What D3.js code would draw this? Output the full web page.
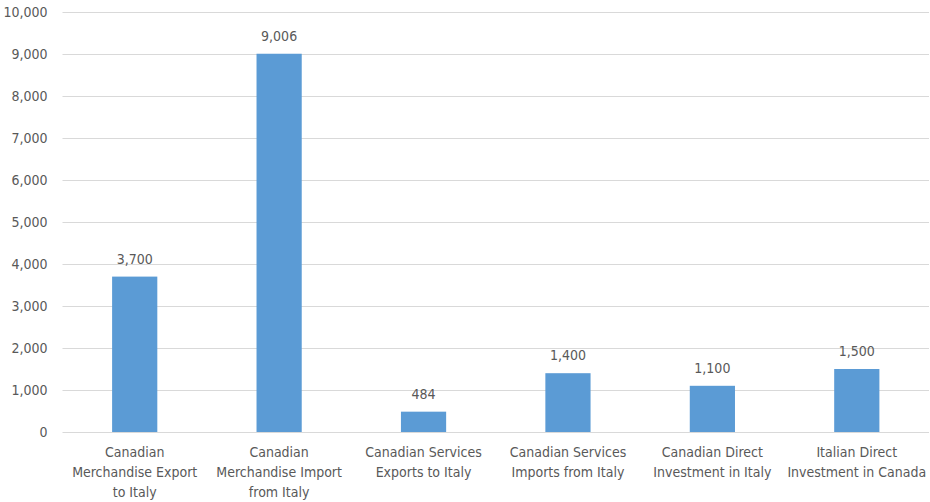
<!DOCTYPE html>
<html>
<head>
<meta charset="utf-8">
<script src="https://cdn.jsdelivr.net/npm/d3@7"></script>
<style>
  html, body { margin: 0; padding: 0; background: #fff; }
  svg text { font-family: "DejaVu Sans Condensed", "Liberation Sans", Arial, sans-serif; fill: #595959; }
</style>
</head>
<body>
<svg id="chart" width="930" height="502"></svg>
<script>
// Canada–Italy trade and investment figures
const categories = [
  ["Canadian", "Merchandise Export", "to Italy"],
  ["Canadian", "Merchandise Import", "from Italy"],
  ["Canadian Services", "Exports to Italy"],
  ["Canadian Services", "Imports from Italy"],
  ["Canadian Direct", "Investment in Italy"],
  ["Italian Direct", "Investment in Canada"]
];
const values = [3700, 9006, 484, 1400, 1100, 1500];
const yTicks = [0, 1000, 2000, 3000, 4000, 5000, 6000, 7000, 8000, 9000, 10000];

const svg = d3.select("#chart");
const margin = { left: 62.5, right: 1, top: 12, bottom: 70 };
const W = 930, H = 502;
const fontFamily = '"DejaVu Sans Condensed", "Liberation Sans", Arial, sans-serif';
const fontSize = 14;

const keys = categories.map((c, i) => i);
const x = d3.scaleBand().domain(keys).range([margin.left, W - margin.right])
  .paddingInner(0.687).paddingOuter(0.3435);
const y = d3.scaleLinear().domain([0, 10000]).range([H - margin.bottom, margin.top]);
const fmt = d3.format(",");

// gridlines
svg.append("g").selectAll("line").data(yTicks).join("line")
  .attr("x1", margin.left).attr("x2", W - margin.right)
  .attr("y1", d => Math.round(y(d)) + 0.5).attr("y2", d => Math.round(y(d)) + 0.5)
  .attr("stroke", "#d9d9d9").attr("stroke-width", 1);

// y axis labels
const yAxis = d3.axisLeft(y).tickValues(yTicks).tickFormat(fmt).tickSize(0).tickPadding(15);
const yg = svg.append("g").attr("transform", `translate(${margin.left},0)`).call(yAxis);
yg.select(".domain").remove();
yg.selectAll("text").attr("font-size", fontSize).style("fill", "#595959")
  .style("font-family", fontFamily);

// bars
svg.append("g").selectAll("rect").data(values).join("rect")
  .attr("x", (d, i) => x(i)).attr("width", x.bandwidth())
  .attr("y", d => y(d)).attr("height", d => y(0) - y(d))
  .attr("fill", "#5b9bd5");

// value labels
svg.append("g").selectAll("text").data(values).join("text")
  .attr("x", (d, i) => x(i) + x.bandwidth() / 2)
  .attr("y", d => y(d) - 13)
  .attr("text-anchor", "middle").attr("font-size", fontSize)
  .text(d => fmt(d));

// category labels
const cg = svg.append("g").selectAll("text").data(categories).join("text")
  .attr("x", (d, i) => x(i) + x.bandwidth() / 2)
  .attr("y", y(0) + 25)
  .attr("text-anchor", "middle").attr("font-size", fontSize);
cg.selectAll("tspan").data(d => d).join("tspan")
  .attr("x", function() { return d3.select(this.parentNode).attr("x"); })
  .attr("dy", (d, i) => i === 0 ? 0 : 20)
  .text(d => d);
</script>
</body>
</html>
